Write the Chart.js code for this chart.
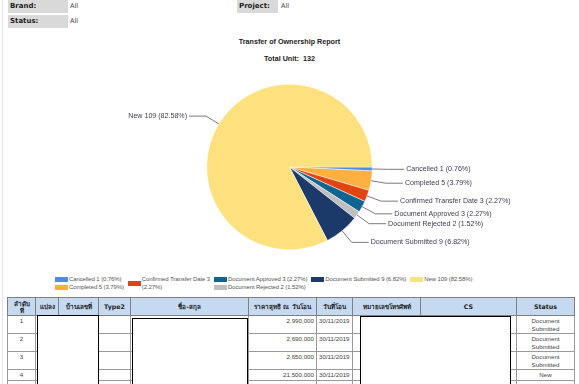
<!DOCTYPE html>
<html>
<head>
<meta charset="utf-8">
<script src="https://cdn.jsdelivr.net/npm/chart.js@4/dist/chart.umd.min.js"></script>
<style>
  body { margin: 0; background: #fff; width: 579px; height: 384px; overflow: hidden; position: relative;
         font-family: "DejaVu Sans", Tahoma, sans-serif; }
  .lbl { position: absolute; background: #d9d9d9; font-weight: bold; font-size: 7px; color: #222;
         height: 13px; line-height: 13px; padding-left: 2px; box-sizing: border-box; }
  .val { position: absolute; font-size: 6.5px; color: #444; line-height: 13px; }
  .title { position: absolute; left: 0; width: 579px; text-align: center; font-family: "Liberation Sans", Arial, sans-serif;
           font-weight: bold; font-size: 7.2px; color: #222; }
  #chartBox { position: absolute; left: 0; top: 30px; width: 579px; height: 232px; }
  #legend { position: absolute; left: 55px; top: 276px; display: flex; gap: 4px;
            font-family: "Liberation Sans", Arial, sans-serif; font-size: 6px; letter-spacing: -0.1px; color: #555; }
  .lcol { display: flex; flex-direction: column; }
  .litem { display: flex; align-items: center; line-height: 7.5px; }
  .lbox { width: 13px; height: 5px; margin-right: 1px; flex: none; }
  .ltxt { white-space: nowrap; }
  #tbl { position: absolute; left: 7px; top: 297px; border-collapse: collapse; table-layout: fixed; width: 567px;
         font-family: "Liberation Sans", Arial, sans-serif; font-size: 6.2px; color: #444; }
  #tbl th { background: #c5d9f1; border: 1px solid #7f7f7f; font-family: "DejaVu Sans", Tahoma, sans-serif;
            font-weight: bold; font-size: 6.3px; color: #222; height: 17px; padding: 0 2px; line-height: 7px; }
  #tbl td { border: 1px solid #9a9a9a; padding: 1px 2px; vertical-align: top; line-height: 7.5px; white-space: nowrap; }
  #tbl td.st { white-space: normal; text-align: center; }
  .mask { position: absolute; background: #fff; border: 1px solid #000; box-sizing: border-box; }
</style>
</head>
<body>
<div style="position:absolute;left:2px;top:0;width:1px;height:384px;background:#e4e4e4"></div>

<div class="lbl" style="left:8px;top:0;width:60px">Brand:</div>
<div class="val" style="left:70px;top:0">All</div>
<div class="lbl" style="left:8px;top:15px;width:60px">Status:</div>
<div class="val" style="left:70px;top:15px">All</div>
<div class="lbl" style="left:237px;top:0;width:41px">Project:</div>
<div class="val" style="left:281px;top:0">All</div>

<div class="title" style="top:37px">Transfer of Ownership Report</div>
<div class="title" style="top:54px">Total Unit:&nbsp; <span id="totalUnit"></span></div>

<div id="chartBox"><canvas id="pie"></canvas></div>
<div id="legend"></div>

<table id="tbl">
  <colgroup>
    <col style="width:28px"><col style="width:23px"><col style="width:40px"><col style="width:32px">
    <col style="width:118px"><col style="width:68px"><col style="width:36px"><col style="width:68px">
    <col style="width:96px"><col style="width:58px">
  </colgroup>
  <thead><tr id="head"></tr></thead>
  <tbody id="rows"></tbody>
</table>

<!-- redacted blocks -->
<div class="mask" style="left:37px;top:315px;width:62px;height:80px"></div>
<div class="mask" style="left:132px;top:318px;width:116px;height:80px"></div>
<div class="mask" style="left:360px;top:316px;width:151px;height:80px"></div>

<script>
// pie data
const categories = ['Cancelled', 'Completed', 'Confirmed Transfer Date', 'Document Approved',
                    'Document Rejected', 'Document Submitted', 'New'];
const units = [1, 5, 3, 3, 2, 9, 109];
const sliceColors = ['#4a8fe6', '#fbb03f', '#e1450f', '#0f6592', '#bfbfbf', '#1b3a69', '#fde17f'];

// table data
const headers = ['ลำดับ<br>ที่', 'แปลง', 'บ้านเลขที่', 'Type2', 'ชื่อ-สกุล', 'ราคาสุทธิ ณ วันโอน',
                 'วันที่โอน', 'หมายเลขโทรศัพท์', 'CS', 'Status'];
const rowNos = ['1', '2', '3', '4', '5'];
const prices = ['2,990,000', '2,690,000', '2,650,000', '21,500,000', '6,500,000'];
const dates = ['30/11/2019', '30/11/2019', '30/11/2019', '30/11/2019', '30/11/2019'];
const statuses = ['Document Submitted', 'Document Submitted', 'Document Submitted', 'New', 'New'];

const total = units.reduce((a, b) => a + b, 0);
document.getElementById('totalUnit').textContent = total;

function pct(i) {
    return '(' + (units[i] / total * 100).toFixed(2) + '%)';
}
function labelFor(i) {
    return categories[i] + ' ' + units[i] + ' ' + pct(i);
}

// leader lines + labels around the pie
const calloutPlugin = {
    id: 'callouts',
    afterDatasetsDraw(chart) {
        const ctx = chart.ctx;
        const meta = chart.getDatasetMeta(0);
        ctx.save();
        ctx.font = '7.1px "Liberation Sans", Arial, sans-serif';
        ctx.textBaseline = 'middle';
        ctx.lineWidth = 1;
        meta.data.forEach((arc, i) => {
            const p = arc.getProps(['x', 'y', 'startAngle', 'endAngle', 'outerRadius'], true);
            const mid = (p.startAngle + p.endAngle) / 2;
            const c = Math.cos(mid), s = Math.sin(mid);
            const x0 = p.x + c * p.outerRadius, y0 = p.y + s * p.outerRadius;
            const x1 = p.x + c * (p.outerRadius + 15), y1 = p.y + s * (p.outerRadius + 15);
            const dir = c >= 0 ? 1 : -1;
            const x2 = x1 + dir * 17;
            ctx.strokeStyle = '#7a7a7a';
            ctx.beginPath();
            ctx.moveTo(x0, y0);
            ctx.lineTo(x1, y1);
            ctx.lineTo(x2, y1);
            ctx.stroke();
            ctx.fillStyle = '#3d3d55';
            ctx.textAlign = dir > 0 ? 'left' : 'right';
            ctx.fillText(labelFor(i), x2 + dir * 2, y1);
        });
        ctx.restore();
    }
};

new Chart(document.getElementById('pie'), {
    type: 'pie',
    data: {
        labels: categories,
        datasets: [{
            data: units,
            backgroundColor: sliceColors,
            borderColor: '#ffffff',
            borderWidth: 0.5
        }]
    },
    options: {
        responsive: true,
        maintainAspectRatio: false,
        animation: false,
        rotation: 90,
        layout: { padding: { top: 54, bottom: 12 } },
        plugins: {
            legend: { display: false },
            tooltip: { enabled: false }
        }
    },
    plugins: [calloutPlugin]
});

// legend below, grouped in columns like the report
// long labels get broken before the percentage, the way the report wraps them
const legendCols = [[0, 1], [2], [3, 4], [5], [6]];
let legendHtml = '';
legendCols.forEach(col => {
    legendHtml += '<div class="lcol">';
    col.forEach(i => {
        let txt = labelFor(i);
        if (txt.length > 30) txt = categories[i] + ' ' + units[i] + '<br>' + pct(i);
        legendHtml += `<div class="litem"><span class="lbox" style="background:${sliceColors[i]}"></span>
                       <span class="ltxt">${txt}</span></div>`;
    });
    legendHtml += '</div>';
});
document.getElementById('legend').innerHTML = legendHtml;

// table
let head = '';
headers.forEach(h => { head += `<th>${h}</th>`; });
document.getElementById('head').innerHTML = head;
let body = '';
rowNos.forEach((n, i) => {
    body += `<tr>
        <td style="text-align:center">${n}</td><td></td><td></td><td></td><td></td>
        <td style="text-align:right">${prices[i]}</td>
        <td>${dates[i]}</td><td></td><td></td>
        <td class="st">${statuses[i]}</td>
    </tr>`;
});
document.getElementById('rows').innerHTML = body;
</script>
</body>
</html>
